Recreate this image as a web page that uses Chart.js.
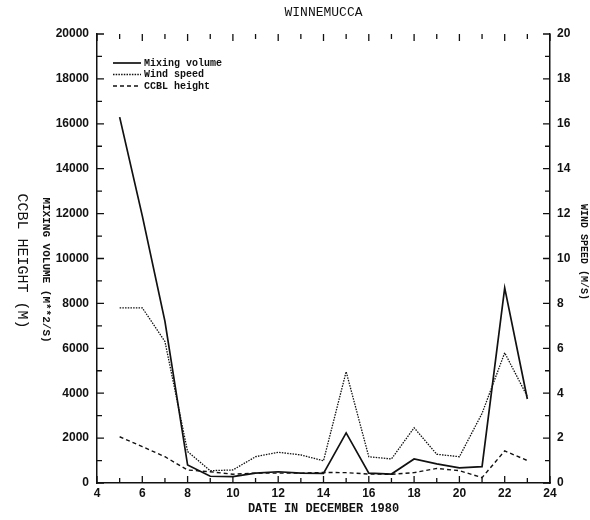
<!DOCTYPE html>
<html>
<head>
<meta charset="utf-8">
<script src="https://cdn.jsdelivr.net/npm/chart.js@4.4.0/dist/chart.umd.min.js"></script>
<style>
  html, body { margin: 0; padding: 0; background: #fff; }
  canvas { display: block; }
</style>
</head>
<body>
<canvas id="chart" width="590" height="520"></canvas>
<script>
// Daily values, December 1980
const days = [5, 6, 7, 8, 9, 10, 11, 12, 13, 14, 15, 16, 17, 18, 19, 20, 21, 22, 23];
const mixingVolume = [16300, 11900, 7200, 800, 300, 280, 440, 500, 440, 430, 2230, 440, 400, 1070, 850, 670, 730, 8690, 3740];
const windSpeed = [7.8, 7.8, 6.3, 1.4, 0.55, 0.58, 1.17, 1.37, 1.25, 0.99, 4.96, 1.17, 1.07, 2.46, 1.28, 1.17, 3.1, 5.8, 3.85];
const ccblHeight = [2060, 1620, 1170, 580, 500, 390, 440, 440, 440, 470, 460, 400, 390, 460, 650, 550, 240, 1430, 1000];

const seriesNames = ["Mixing volume", "Wind speed", "CCBL height"];

const INK = "#111";
const monoFont = '"Liberation Mono", "DejaVu Sans Mono", monospace';
const tickFont = { family: '"Liberation Sans Narrow", "Liberation Sans", sans-serif', size: 12, weight: "bold" };
const plain = (v) => String(v);

function pts(ys) {
  return days.map((d, i) => ({ x: d, y: ys[i] }));
}

// inward tick marks on all four sides, major + minor
const tickMarks = {
  id: "tickMarks",
  afterDraw(chart) {
    const { ctx, chartArea: a, scales } = chart;
    ctx.save();
    ctx.strokeStyle = INK;
    ctx.lineWidth = 1.3;
    ctx.beginPath();
    for (let d = 4; d <= 24; d++) {
      const px = scales.x.getPixelForValue(d);
      const len = d % 2 === 0 ? 7 : 5;
      ctx.moveTo(px, a.bottom); ctx.lineTo(px, a.bottom - len);
      ctx.moveTo(px, a.top); ctx.lineTo(px, a.top + len);
    }
    for (let v = 0; v <= 20000; v += 1000) {
      const py = scales.y.getPixelForValue(v);
      const len = v % 2000 === 0 ? 7 : 5;
      ctx.moveTo(a.left, py); ctx.lineTo(a.left + len, py);
    }
    for (let v = 0; v <= 20; v += 1) {
      const py = scales.y2.getPixelForValue(v);
      const len = v % 2 === 0 ? 7 : 5;
      ctx.moveTo(a.right, py); ctx.lineTo(a.right - len, py);
    }
    ctx.stroke();
    ctx.restore();
  }
};

// title, axis titles and legend key
const annotations = {
  id: "annotations",
  afterDraw(chart) {
    const { ctx, chartArea: a } = chart;
    const cx = (a.left + a.right) / 2;
    ctx.save();
    ctx.fillStyle = INK;
    ctx.textAlign = "center";
    ctx.textBaseline = "middle";

    ctx.font = "13px " + monoFont;
    ctx.fillText("WINNEMUCCA", cx, 13);

    ctx.font = "bold 12px " + monoFont;
    ctx.fillText("DATE IN DECEMBER 1980", cx, 509);

    const vtext = (txt, x, y, font) => {
      ctx.save();
      ctx.translate(x, y);
      ctx.rotate(Math.PI / 2);
      ctx.font = font;
      ctx.fillText(txt, 0, 0);
      ctx.restore();
    };
    vtext("CCBL HEIGHT (M)", 22, 261, "15px " + monoFont);
    vtext("MIXING VOLUME (M**2/S)", 46, 270, "bold 11px " + monoFont);
    vtext("WIND SPEED (M/S)", 584, 252, "bold 10px " + monoFont);

    // legend key
    ctx.textAlign = "left";
    ctx.font = "bold 10px " + monoFont;
    chart.data.datasets.forEach((ds, i) => {
      const y = 63 + i * 11.5;
      ctx.beginPath();
      ctx.setLineDash(ds.borderDash || []);
      ctx.lineWidth = ds.borderWidth;
      ctx.strokeStyle = ds.borderColor;
      ctx.moveTo(113, y);
      ctx.lineTo(141, y);
      ctx.stroke();
      ctx.setLineDash([]);
      ctx.fillText(ds.label, 144, y);
    });
    ctx.restore();
  }
};

new Chart(document.getElementById("chart"), {
  type: "line",
  data: {
    datasets: [
      {
        label: seriesNames[0],
        data: pts(mixingVolume),
        yAxisID: "y",
        borderColor: INK,
        borderWidth: 1.7
      },
      {
        label: seriesNames[1],
        data: pts(windSpeed),
        yAxisID: "y2",
        borderColor: INK,
        borderWidth: 1.3,
        borderDash: [1.5, 1.2]
      },
      {
        label: seriesNames[2],
        data: pts(ccblHeight),
        yAxisID: "y",
        borderColor: INK,
        borderWidth: 1.4,
        borderDash: [4, 3]
      }
    ]
  },
  options: {
    responsive: false,
    animation: false,
    layout: { padding: { top: 34, left: 0, right: 0, bottom: 0 } },
    elements: { point: { radius: 0 }, line: { tension: 0 } },
    plugins: { legend: { display: false }, tooltip: { enabled: false } },
    scales: {
      x: {
        type: "linear",
        min: 4,
        max: 24,
        afterFit: (s) => { s.height = 37; },
        ticks: { stepSize: 2, color: INK, font: tickFont, padding: 3, maxRotation: 0, callback: plain },
        grid: { drawOnChartArea: false, drawTicks: false },
        border: { color: INK, width: 1.5 }
      },
      y: {
        position: "left",
        min: 0,
        max: 20000,
        afterFit: (s) => { s.width = 97; },
        ticks: { stepSize: 2000, color: INK, font: tickFont, padding: 8, callback: plain },
        grid: { drawOnChartArea: false, drawTicks: false },
        border: { color: INK, width: 1.5 }
      },
      y2: {
        position: "right",
        min: 0,
        max: 20,
        afterFit: (s) => { s.width = 40; },
        ticks: { stepSize: 2, color: INK, font: tickFont, padding: 7, callback: plain },
        grid: { drawOnChartArea: false, drawTicks: false },
        border: { color: INK, width: 1.5 }
      }
    }
  },
  plugins: [tickMarks, annotations]
});
</script>
</body>
</html>
